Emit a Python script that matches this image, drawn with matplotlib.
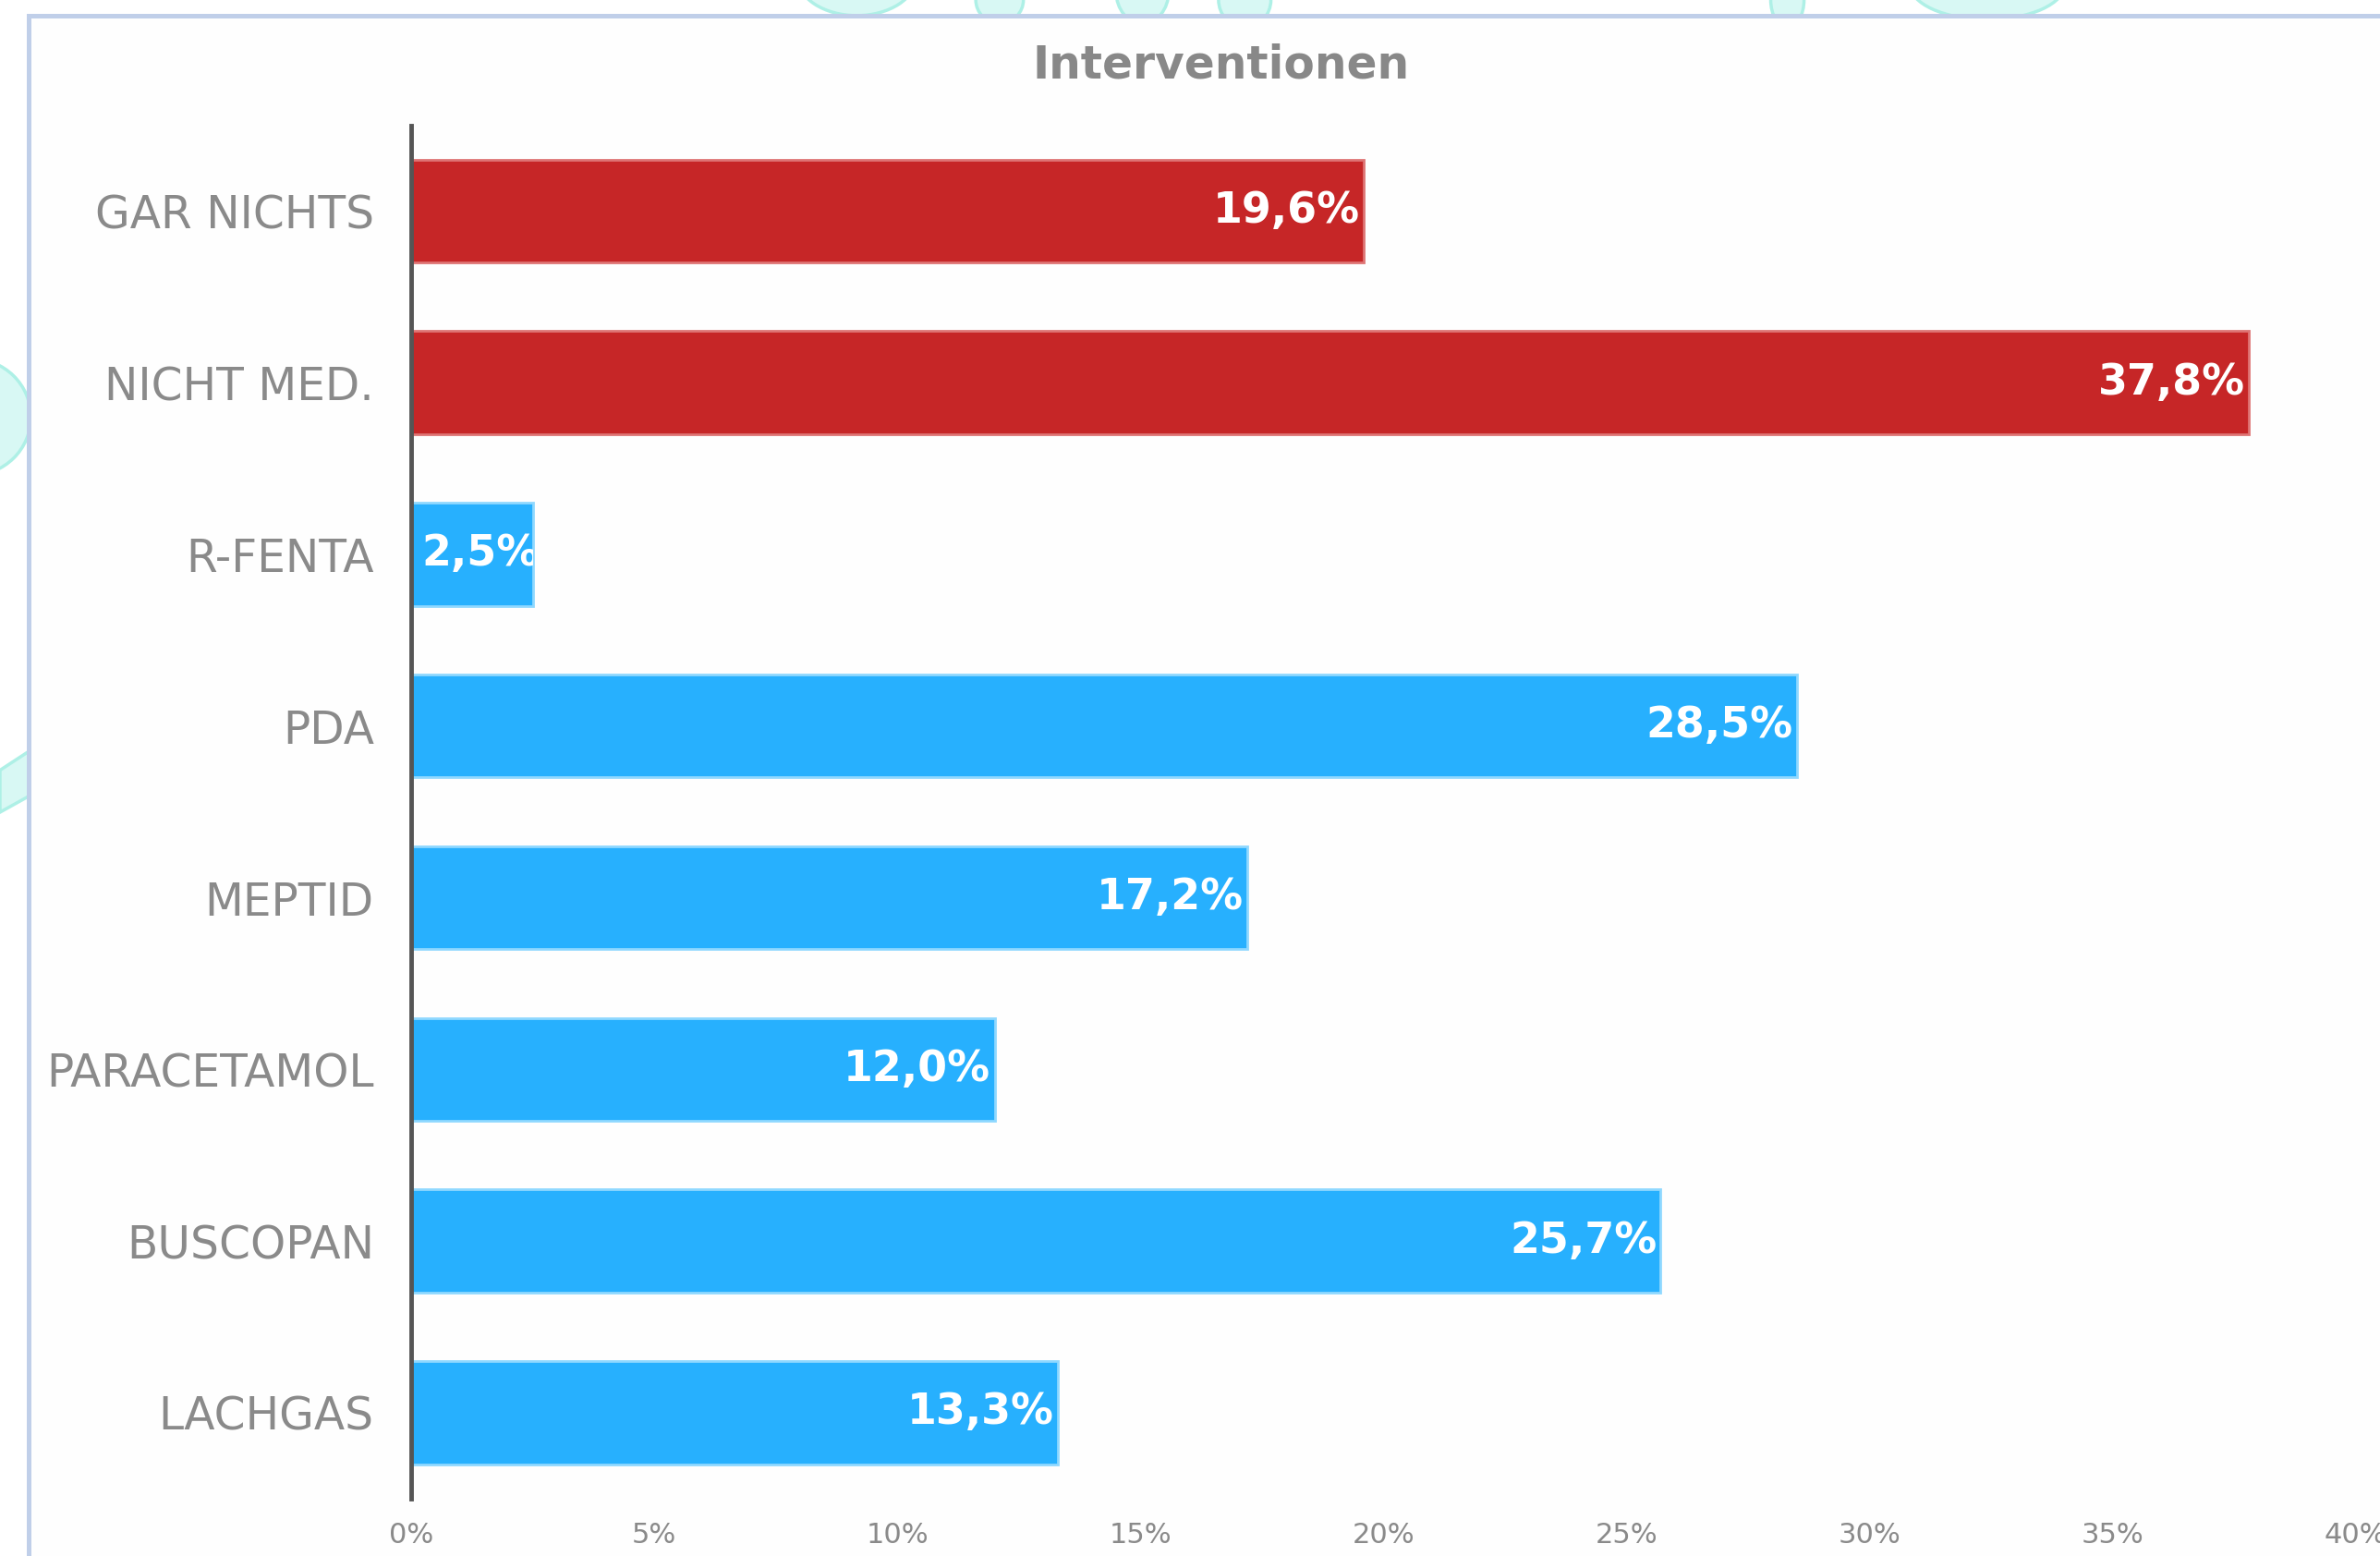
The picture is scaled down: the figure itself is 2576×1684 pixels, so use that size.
import matplotlib.pyplot as plt
from matplotlib.patches import Rectangle, Ellipse, Polygon

# Daten
categories = ['GAR NICHTS', 'NICHT MED.', 'R-FENTA', 'PDA', 'MEPTID',
              'PARACETAMOL', 'BUSCOPAN', 'LACHGAS']
values = [19.6, 37.8, 2.5, 28.5, 17.2, 12.0, 25.7, 13.3]
groups = ['keine', 'keine', 'med', 'med', 'med', 'med', 'med', 'med']
x_ticks = [0, 5, 10, 15, 20, 25, 30, 35, 40]

fill = {'keine': '#c62627', 'med': '#27b0fe'}
edge = {'keine': '#de7474', 'med': '#8fd8ff'}
grey = '#8a8a8a'

plt.rcParams['font.family'] = ['DejaVu Sans']

fig = plt.figure(figsize=(25.76, 16.84), dpi=100)
fig.patch.set_facecolor('white')

# Hintergrund-Deko (hellcyan, hinter dem Panel)
deco = dict(facecolor='#d8f8f4', edgecolor='#aef0e6', linewidth=2.5,
            transform=fig.transFigure, zorder=-3)
fig.patches.append(Ellipse((-0.012, 0.732), 0.05, 0.075, **deco))
fig.patches.append(Polygon([(0, 0.505), (0.02, 0.525), (0.02, 0.495), (0, 0.478)],
                           closed=True, **deco))
fig.patches.append(Ellipse((0.36, 1.015), 0.05, 0.05, **deco))
fig.patches.append(Ellipse((0.42, 1.0), 0.02, 0.03, **deco))
fig.patches.append(Ellipse((0.48, 1.005), 0.022, 0.04, **deco))
fig.patches.append(Ellipse((0.523, 1.0), 0.022, 0.035, **deco))
fig.patches.append(Ellipse((0.751, 1.0), 0.014, 0.035, **deco))
fig.patches.append(Ellipse((0.835, 1.01), 0.065, 0.045, **deco))

# weisses Panel mit Rahmen
fig.patches.append(Rectangle((0.012, -0.1), 1.2, 1.09, transform=fig.transFigure,
                             facecolor='#fefefe', edgecolor='#c0cfe9',
                             linewidth=3.6, zorder=-1))

ax = fig.add_axes([0.1728, 0.037, 0.817, 0.8825])
ax.set_facecolor('none')

y = list(range(len(categories)))
bars = ax.barh(y, values, height=0.6,
               color=[fill[g] for g in groups],
               edgecolor=[edge[g] for g in groups], linewidth=2)

# Werte in die Balken
for i, (bar, v) in enumerate(zip(bars, values)):
    txt = f'{v:.1f}'.replace('.', ',') + '%'
    if v < 3:
        x, off, ha = 0, 8, 'left'
    else:
        x, off, ha = v, -3, 'right'
    t = ax.annotate(txt, (x, i), xytext=(off, 0), textcoords='offset points',
                    ha=ha, va='center', color='white', fontsize=33,
                    fontweight='bold')
    t.set_clip_on(True)
    t.set_clip_path(bar)

ax.set_xlim(0, 40)
ax.set_ylim(len(categories) - 0.5, -0.5)
ax.set_yticks(y)
ax.set_yticklabels(categories)
ax.set_xticks(x_ticks)
ax.set_xticklabels([f'{t}%' for t in x_ticks])

ax.tick_params(axis='y', length=0, pad=29, labelsize=35, labelcolor=grey)
ax.tick_params(axis='x', length=0, pad=18, labelsize=22, labelcolor=grey)

for s in ['top', 'right', 'bottom']:
    ax.spines[s].set_visible(False)
ax.spines['left'].set_color('#555555')
ax.spines['left'].set_linewidth(3.5)
ax.spines['left'].set_zorder(5)

fig.text(0.513, 0.958, 'Interventionen', ha='center', va='center',
         fontsize=35, fontweight='bold', color='#888888')

fig.savefig('out.png', dpi=100)
